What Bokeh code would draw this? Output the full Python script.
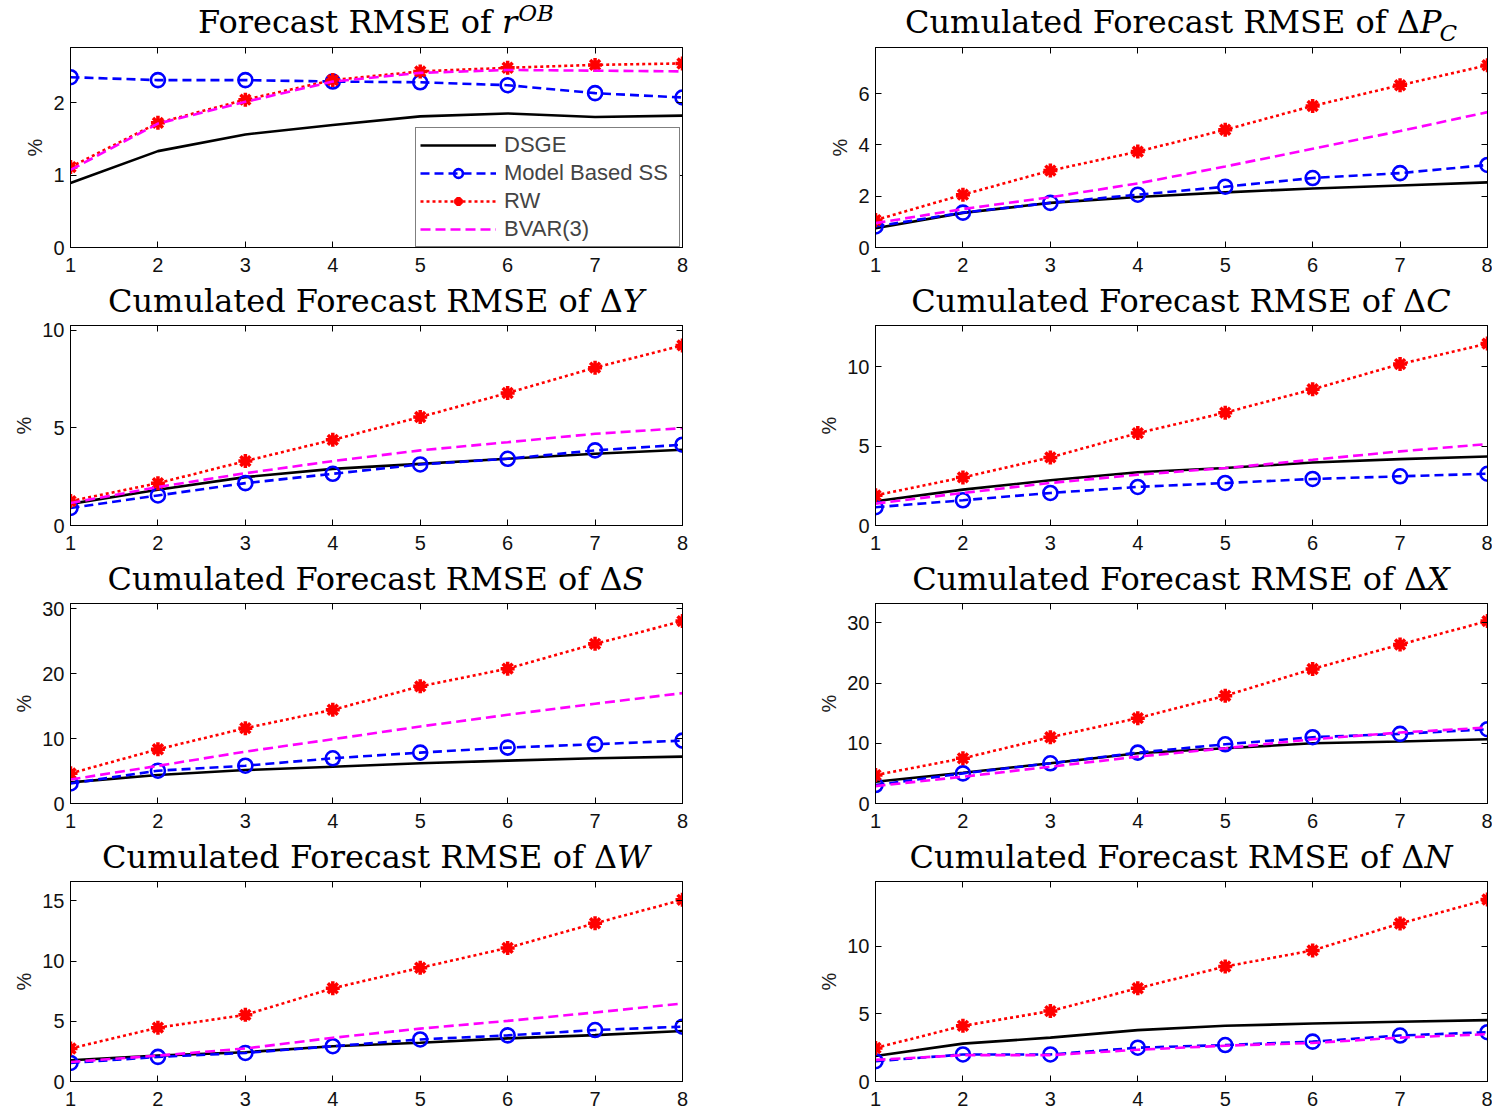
from bokeh.plotting import figure
from bokeh.layouts import column, row
from bokeh.models import (LinearAxis, FixedTicker, Range1d, Legend, LegendItem, Div)
from bokeh.embed import file_html
from bokeh.resources import INLINE

horizon = [1, 2, 3, 4, 5, 6, 7, 8]
series_names = ["DSGE", "Model Based SS", "RW", "BVAR(3)"]

# r^OB
dsge_r = [0.89, 1.33, 1.56, 1.69, 1.81, 1.85, 1.80, 1.82]
mbss_r = [2.35, 2.31, 2.31, 2.29, 2.28, 2.24, 2.13, 2.07]
rw_r = [1.11, 1.72, 2.04, 2.31, 2.43, 2.48, 2.52, 2.54]
bvar_r = [1.07, 1.71, 2.01, 2.29, 2.41, 2.45, 2.44, 2.43]
# dP_C
dsge_pc = [0.75, 1.35, 1.74, 1.97, 2.15, 2.30, 2.42, 2.54]
mbss_pc = [0.82, 1.36, 1.74, 2.06, 2.37, 2.71, 2.90, 3.22]
rw_pc = [1.07, 2.06, 3.00, 3.74, 4.59, 5.52, 6.33, 7.11]
bvar_pc = [0.95, 1.50, 1.96, 2.50, 3.16, 3.85, 4.54, 5.28]
# dY
dsge_y = [1.11, 1.83, 2.48, 2.90, 3.16, 3.42, 3.68, 3.88]
mbss_y = [0.90, 1.54, 2.17, 2.65, 3.13, 3.42, 3.85, 4.14]
rw_y = [1.25, 2.17, 3.30, 4.39, 5.56, 6.79, 8.09, 9.23]
bvar_y = [1.15, 1.97, 2.68, 3.30, 3.85, 4.27, 4.70, 4.99]
# dC
dsge_c = [1.53, 2.26, 2.85, 3.35, 3.62, 3.97, 4.18, 4.35]
mbss_c = [1.15, 1.59, 2.05, 2.43, 2.68, 2.93, 3.10, 3.26]
rw_c = [1.90, 3.03, 4.29, 5.82, 7.11, 8.58, 10.17, 11.46]
bvar_c = [1.38, 2.05, 2.68, 3.20, 3.62, 4.14, 4.67, 5.13]
# dS
dsge_s = [3.25, 4.38, 5.15, 5.67, 6.19, 6.60, 6.96, 7.22]
mbss_s = [3.09, 5.05, 5.82, 6.96, 7.84, 8.61, 9.12, 9.69]
rw_s = [4.64, 8.35, 11.60, 14.43, 18.04, 20.77, 24.59, 28.09]
bvar_s = [3.70, 5.80, 7.99, 9.90, 11.86, 13.66, 15.36, 17.00]
# dX
dsge_x = [3.61, 5.11, 6.67, 8.33, 9.17, 10.00, 10.28, 10.67]
mbss_x = [3.06, 5.00, 6.67, 8.44, 9.83, 11.00, 11.56, 12.33]
rw_x = [4.72, 7.50, 11.00, 14.17, 17.89, 22.33, 26.39, 30.28]
bvar_x = [2.89, 4.44, 6.11, 7.78, 9.17, 10.67, 11.78, 12.61]
# dW
dsge_w = [1.76, 2.15, 2.43, 2.93, 3.21, 3.58, 3.85, 4.19]
mbss_w = [1.54, 2.04, 2.37, 2.93, 3.49, 3.83, 4.27, 4.55]
rw_w = [2.74, 4.47, 5.53, 7.74, 9.44, 11.09, 13.13, 15.08]
bvar_w = [1.62, 2.15, 2.74, 3.63, 4.39, 5.03, 5.73, 6.48]
# dN
dsge_n = [1.89, 2.80, 3.25, 3.80, 4.12, 4.29, 4.42, 4.54]
mbss_n = [1.50, 2.00, 2.00, 2.50, 2.70, 2.95, 3.40, 3.65]
rw_n = [2.48, 4.12, 5.21, 6.90, 8.51, 9.70, 11.69, 13.47]
bvar_n = [1.60, 1.95, 1.95, 2.35, 2.65, 2.85, 3.25, 3.50]

y_max = [2.76, 7.8, 10.25, 12.6, 30.8, 33.2, 16.6, 14.8]
y_ticks = [[0, 1, 2], [0, 2, 4, 6], [0, 5, 10], [0, 5, 10],
           [0, 10, 20, 30], [0, 10, 20, 30], [0, 5, 10, 15], [0, 5, 10]]
# (main text, italic symbol, script text, script kind)
titles = [("Forecast RMSE of ", "r", "OB", "sup"),
          ("Cumulated Forecast RMSE of Δ", "P", "C", "sub"),
          ("Cumulated Forecast RMSE of Δ", "Y", "", ""),
          ("Cumulated Forecast RMSE of Δ", "C", "", ""),
          ("Cumulated Forecast RMSE of Δ", "S", "", ""),
          ("Cumulated Forecast RMSE of Δ", "X", "", ""),
          ("Cumulated Forecast RMSE of Δ", "W", "", ""),
          ("Cumulated Forecast RMSE of Δ", "N", "", "")]
panel_data = [(dsge_r, mbss_r, rw_r, bvar_r), (dsge_pc, mbss_pc, rw_pc, bvar_pc),
              (dsge_y, mbss_y, rw_y, bvar_y), (dsge_c, mbss_c, rw_c, bvar_c),
              (dsge_s, mbss_s, rw_s, bvar_s), (dsge_x, mbss_x, rw_x, bvar_x),
              (dsge_w, mbss_w, rw_w, bvar_w), (dsge_n, mbss_n, rw_n, bvar_n)]

SANS = "Liberation Sans"
FRAME_W = 612
FIG_W = [750, 742]
BORDER_L = [70, 125]
BORDER_R = [68, 5]
# per row: (title div height, figure top border, figure bottom border)
ROW_BOX = [(43, 4, 34), (34, 10, 34), (34, 10, 34), (34, 10, 33)]


def title_div(i, col, r_i):
    main, sym, script, kind = titles[i]
    html = main + "<i>" + sym + "</i>"
    if script:
        shift = "-12px" if kind == "sup" else "8px"
        html += ('<span style="font-size:23px;font-style:italic;position:relative;'
                 'top:%s;margin-left:%s">%s</span>' % (shift, "1px" if kind == "sup" else "-2px", script))
    div_h = ROW_BOX[r_i][0]
    pad = 4 if r_i == 0 else 2
    inner = ('<div style="margin-left:%dpx;width:%dpx;text-align:center;white-space:nowrap;'
             'font-family:\'DejaVu Serif\';font-size:32px;line-height:36px;color:black;'
             'padding-top:%dpx">%s</div>' % (BORDER_L[col], FRAME_W, pad, html))
    return Div(text=inner, width=FIG_W[col], height=div_h, margin=0)


def make(i):
    col = i % 2
    r_i = i // 2
    _, top_b, bottom = ROW_BOX[r_i]
    p = figure(width=FIG_W[col], height=top_b + 200 + bottom,
               x_range=Range1d(1, 8), y_range=Range1d(0, y_max[i]),
               output_backend="svg", toolbar_location=None,
               min_border_left=BORDER_L[col], min_border_right=BORDER_R[col],
               min_border_top=top_b, min_border_bottom=bottom,
               background_fill_color="white", border_fill_color="white")
    p.outline_line_color = "black"
    p.outline_line_width = 1
    p.xgrid.visible = False
    p.ygrid.visible = False
    p.xaxis.ticker = FixedTicker(ticks=horizon)
    p.yaxis.ticker = FixedTicker(ticks=y_ticks[i])
    for ax in (p.xaxis[0], p.yaxis[0]):
        ax.major_tick_in = 6
        ax.major_tick_out = 0
        ax.minor_tick_line_color = None
        ax.axis_line_color = "black"
        ax.major_tick_line_color = "black"
        ax.major_label_text_font = SANS
        ax.major_label_text_font_size = "20px"
        ax.major_label_text_color = "#111111"
    p.xaxis.major_label_standoff = 10
    p.yaxis.major_label_standoff = 6
    p.yaxis.axis_label = "%"
    p.yaxis.axis_label_text_font = SANS
    p.yaxis.axis_label_text_font_size = "20px"
    p.yaxis.axis_label_text_font_style = "normal"
    p.yaxis.axis_label_text_color = "#222222"
    p.yaxis.axis_label_standoff = 4
    # mirrored ticks (MATLAB box), no labels drawn
    top = LinearAxis(ticker=FixedTicker(ticks=horizon), major_tick_in=6, major_tick_out=0,
                     minor_tick_line_color=None, major_label_text_font_size="1px",
                     major_label_text_color=None,
                     major_label_standoff=0, axis_line_color="black")
    right = LinearAxis(ticker=FixedTicker(ticks=y_ticks[i]), major_tick_in=6, major_tick_out=0,
                       minor_tick_line_color=None, major_label_text_font_size="1px",
                       major_label_text_color=None,
                       major_label_standoff=0, axis_line_color="black")
    p.add_layout(top, "above")
    p.add_layout(right, "right")

    dsge, mbss, rw, bvar = panel_data[i]
    r_dsge = p.line(horizon, dsge, line_color="black", line_width=2.6)
    r_mb_l = p.line(horizon, mbss, line_color="#0000ff", line_width=2.6, line_dash="9 5")
    r_mb_m = p.scatter(horizon, mbss, marker="circle", size=14, fill_color=None,
                       line_color="#0000ff", line_width=2.6)
    r_rw_l = p.line(horizon, rw, line_color="#ff0000", line_width=2.6, line_dash="3 3")
    r_rw_m = p.scatter(horizon, rw, marker="asterisk", size=14,
                       line_color="#ff0000", line_width=3.5)
    r_bv = p.line(horizon, bvar, line_color="#ff00ff", line_width=2.6, line_dash="10 5")

    if i == 0:
        legend = Legend(items=[
            LegendItem(label=series_names[0], renderers=[r_dsge]),
            LegendItem(label=series_names[1], renderers=[r_mb_l, r_mb_m]),
            LegendItem(label=series_names[2], renderers=[r_rw_l, r_rw_m]),
            LegendItem(label=series_names[3], renderers=[r_bv]),
        ], location=(345, 0), margin=0, padding=4, spacing=2,
            glyph_width=76, glyph_height=22, label_height=22, label_width=171,
            label_standoff=8,
            label_text_font=SANS, label_text_font_size="22px",
            border_line_color="black", border_line_width=1,
            background_fill_color="white", background_fill_alpha=1.0)
        p.add_layout(legend, "center")
    return column(title_div(i, col, r_i), p, spacing=0)


cells = [make(i) for i in range(8)]
page = column(*[row(cells[2 * r], cells[2 * r + 1], spacing=0) for r in range(4)], spacing=0)
open("out.html", "w").write(file_html(page, INLINE))
